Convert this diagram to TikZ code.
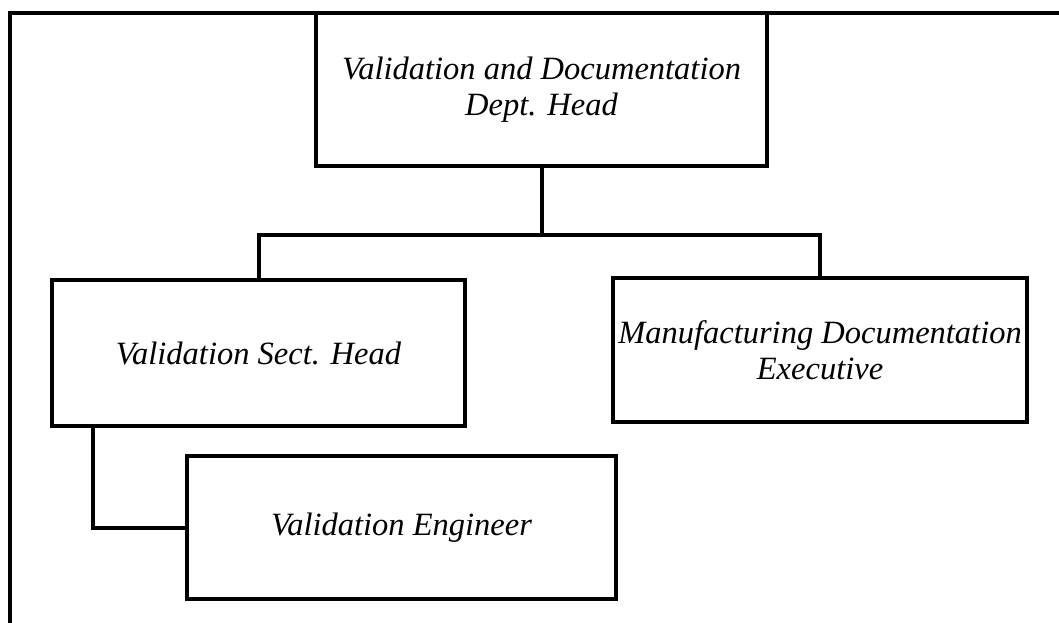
\documentclass[tikz,border=0pt]{standalone}
\usepackage{fontspec}
\setmainfont{Liberation Serif}
\usetikzlibrary{calc}
\begin{document}
\begin{tikzpicture}[x=1pt,y=-1pt,
  line width=4pt, line join=miter,
  orgbox/.style={draw, rectangle, inner sep=0pt, align=center,
    font=\fontsize{32.5}{36.5}\selectfont\itshape},
  link/.style={draw, line width=4pt}]
\useasboundingbox (0,0) rectangle (1059,623);
% page frame
\draw (10,623) -- (10,13) -- (1060,13);
% positions
\node[orgbox, minimum width=451pt, minimum height=153pt] (head) at (541.5,89.5)
  {Validation and Documentation\\Dept. Head};
\node[orgbox, minimum width=413pt, minimum height=146pt] (sect) at (258.5,353)
  {Validation Sect. Head};
\node[orgbox, minimum width=414pt, minimum height=144pt] (mfg) at (820,350)
  {Manufacturing Documentation\\Executive};
\node[orgbox, minimum width=429pt, minimum height=143pt] (eng) at (401.5,527.5)
  {Validation Engineer};
% connectors
\coordinate (bus) at (541.5,235);
\draw[link] (head.south) -- (bus);
\draw[link] (sect.north) |- (bus) -| (mfg.north);
\draw[link] ($(sect.south west)+(43,0)$) |- (eng.west);
\end{tikzpicture}
\end{document}
